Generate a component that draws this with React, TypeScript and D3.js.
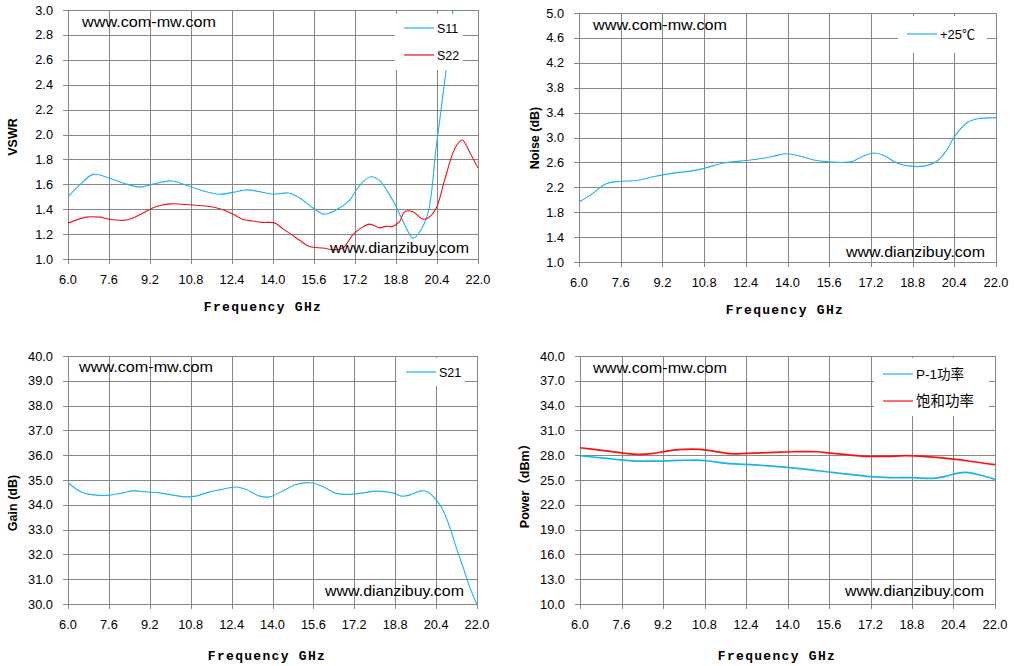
import React from "react";
import * as d3 from "d3";

// ---------- data ----------
const freqTicks = [6.0, 7.6, 9.2, 10.8, 12.4, 14.0, 15.6, 17.2, 18.8, 20.4, 22.0];

const s11Freq = [6.0, 6.46, 6.98, 7.6, 8.15, 8.8, 9.2, 10.03, 10.8, 11.4, 11.9, 12.44, 13.0, 13.5, 14.0, 14.6, 15.04, 15.56, 16.0, 16.47, 17.0, 17.3, 17.8, 18.16, 18.55, 18.81, 19.14, 19.46, 19.7, 20.05, 20.37, 20.77, 21.05, 21.4, 22.0];
const s11Vswr = [1.50, 1.595, 1.68, 1.65, 1.61, 1.577, 1.595, 1.627, 1.58, 1.54, 1.52, 1.535, 1.555, 1.54, 1.52, 1.53, 1.49, 1.41, 1.36, 1.395, 1.475, 1.57, 1.66, 1.63, 1.515, 1.42, 1.275, 1.168, 1.21, 1.37, 1.9, 2.54, 3.05, 3.7, 4.6];

const s22Freq = [6.0, 6.71, 7.24, 7.6, 8.15, 8.54, 8.93, 9.3, 9.6, 10.03, 10.6, 11.1, 11.66, 12.05, 12.44, 12.8, 13.2, 13.6, 14.06, 14.4, 14.7, 15.04, 15.43, 15.95, 16.34, 16.73, 17.12, 17.45, 17.77, 18.16, 18.4, 18.67, 18.94, 19.14, 19.46, 19.85, 20.05, 20.37, 20.7, 21.1, 21.38, 21.67, 22.0];
const s22Vswr = [1.288, 1.336, 1.336, 1.32, 1.31, 1.33, 1.37, 1.41, 1.43, 1.443, 1.438, 1.43, 1.417, 1.395, 1.36, 1.32, 1.305, 1.294, 1.29, 1.24, 1.2, 1.15, 1.1, 1.088, 1.075, 1.088, 1.195, 1.25, 1.28, 1.25, 1.262, 1.262, 1.30, 1.38, 1.38, 1.32, 1.33, 1.41, 1.635, 1.89, 1.956, 1.86, 1.73];

const noiseFreq = [6.0, 6.42, 7.06, 7.57, 8.21, 8.85, 9.5, 10.26, 10.77, 11.54, 12.18, 12.82, 13.46, 13.97, 14.5, 15.1, 15.6, 16.15, 16.5, 16.9, 17.3, 17.7, 18.2, 18.7, 19.2, 19.7, 20.1, 20.4, 20.9, 21.3, 22.0];
const noiseDb = [1.964, 2.07, 2.26, 2.296, 2.31, 2.37, 2.42, 2.46, 2.50, 2.59, 2.62, 2.65, 2.70, 2.74, 2.70, 2.63, 2.61, 2.60, 2.62, 2.70, 2.75, 2.71, 2.59, 2.54, 2.54, 2.61, 2.79, 3.01, 3.24, 3.30, 3.32];

const gainFreq = [6.0, 6.52, 7.11, 7.63, 8.15, 8.54, 9.06, 9.59, 10.1, 10.63, 11.0, 11.54, 12.06, 12.58, 12.97, 13.5, 13.89, 14.4, 14.93, 15.46, 15.9, 16.5, 17.0, 17.54, 18.06, 18.7, 19.04, 19.37, 19.8, 20.07, 20.4, 20.67, 20.93, 21.2, 21.45, 21.71, 22.0];
const gainDb = [34.89, 34.52, 34.39, 34.39, 34.48, 34.56, 34.52, 34.48, 34.39, 34.32, 34.35, 34.52, 34.63, 34.72, 34.62, 34.35, 34.32, 34.56, 34.82, 34.89, 34.77, 34.46, 34.42, 34.48, 34.55, 34.48, 34.35, 34.39, 34.56, 34.52, 34.21, 33.78, 33.11, 32.24, 31.5, 30.7, 29.96];

const p1Freq = [6.0, 7.03, 7.67, 8.31, 9.08, 9.86, 10.5, 10.88, 11.65, 12.43, 13.2, 13.97, 14.74, 15.5, 16.28, 17.18, 17.95, 18.85, 19.62, 20.14, 20.52, 20.9, 21.42, 22.0];
const p1Dbm = [27.94, 27.61, 27.41, 27.29, 27.29, 27.37, 27.41, 27.33, 27.0, 26.89, 26.73, 26.53, 26.29, 26.0, 25.72, 25.4, 25.28, 25.28, 25.2, 25.48, 25.8, 25.92, 25.6, 25.08];

const psatFreq = [6.0, 6.77, 7.54, 8.31, 8.83, 9.34, 9.98, 10.63, 11.14, 11.78, 12.43, 13.46, 14.23, 15.12, 15.64, 16.41, 17.18, 17.82, 18.59, 19.36, 20.14, 20.9, 22.0];
const psatDbm = [28.9, 28.62, 28.3, 28.1, 28.22, 28.5, 28.7, 28.7, 28.5, 28.18, 28.22, 28.34, 28.42, 28.42, 28.26, 28.02, 27.86, 27.86, 27.94, 27.82, 27.61, 27.33, 26.85];

const vswrTicks = [1.0, 1.2, 1.4, 1.6, 1.8, 2.0, 2.2, 2.4, 2.6, 2.8, 3.0];
const noiseTicks = [1.0, 1.4, 1.8, 2.2, 2.6, 3.0, 3.4, 3.8, 4.2, 4.6, 5.0];
const gainTicks = [30, 31, 32, 33, 34, 35, 36, 37, 38, 39, 40];
const powerTicks = [10, 13, 16, 19, 22, 25, 28, 31, 34, 37, 40];

// ---------- styles ----------
const GRID = "#878787";
const BLUE = "#1cb2ec";
const RED = "#e8141a";
const RED2 = "#ff1010";
const TICK_FONT = "'Liberation Sans', Arial, sans-serif";
const CJK_FONT = "'Liberation Sans', 'Noto Sans CJK SC', sans-serif";

type Series = { name: string; xs: number[]; ys: number[]; color: string; width: number; fs: number };
type ChartProps = {
  id: string;
  x0: number; x1: number; y0: number; y1: number;
  yTicks: number[]; yFmt: (v: number) => string;
  series: Series[];
  yTitle: string; yTitleX: number; yTitleY: number;
  xTitleX: number; xTitleY: number;
  legend: { x: number; y: number; w: number; h: number; rows: number[] };
  wm1: { x: number; y: number }; wm2: { x: number; y: number };
};

function Chart(p: ChartProps) {
  const xs = d3.scaleLinear().domain([6, 22]).range([p.x0, p.x1]);
  const ys = d3.scaleLinear().domain([p.yTicks[0], p.yTicks[p.yTicks.length - 1]]).range([p.y1, p.y0]);
  const line = d3.line<[number, number]>().x((d) => xs(d[0])).y((d) => ys(d[1])).curve(d3.curveCatmullRom.alpha(0.5));
  return (
    <g>
      <defs>
        <clipPath id={p.id}>
          <rect x={p.x0} y={p.y0} width={p.x1 - p.x0} height={p.y1 - p.y0} />
        </clipPath>
      </defs>
      <g shapeRendering="crispEdges" stroke={GRID} strokeWidth={1}>
        {p.yTicks.map((t) => (
          <line key={"h" + t} x1={p.x0 - 5} x2={p.x1} y1={Math.round(ys(t)) + 0.5} y2={Math.round(ys(t)) + 0.5} />
        ))}
        {freqTicks.map((t) => (
          <line key={"v" + t} x1={Math.round(xs(t)) + 0.5} x2={Math.round(xs(t)) + 0.5} y1={p.y0} y2={p.y1 + 5} />
        ))}
      </g>
      <g fontFamily={TICK_FONT} fontSize={12.8} fill="#000">
        {p.yTicks.map((t) => (
          <text key={"yl" + t} x={p.x0 - 15} y={ys(t) + 4.5} textAnchor="end">{p.yFmt(t)}</text>
        ))}
        {freqTicks.map((t) => (
          <text key={"xl" + t} x={xs(t)} y={p.y1 + 25} textAnchor="middle">{t.toFixed(1)}</text>
        ))}
      </g>
      <g clipPath={`url(#${p.id})`}>
        {p.series.map((s) => (
          <path key={s.name} d={line(s.xs.map((x, i) => [x, s.ys[i]] as [number, number])) || ""} fill="none" stroke={s.color} strokeWidth={s.width} />
        ))}
      </g>
      <rect x={p.legend.x} y={p.legend.y} width={p.legend.w} height={p.legend.h} fill="#fff" />
      {p.series.map((s, i) => (
        <g key={"lg" + s.name}>
          <line x1={p.legend.x + 9} x2={p.legend.x + 39} y1={p.legend.rows[i]} y2={p.legend.rows[i]} stroke={s.color} strokeWidth={1.2} />
          <text x={p.legend.x + 42} y={p.legend.rows[i] + 5} fontFamily={CJK_FONT} fontSize={s.fs} fill="#000">{s.name}</text>
        </g>
      ))}
      <text x={p.wm1.x} y={p.wm1.y} fontFamily={TICK_FONT} fontSize={15} textLength={134} lengthAdjust="spacingAndGlyphs" fill="#000">www.com-mw.com</text>
      <text x={p.wm2.x} y={p.wm2.y} fontFamily={TICK_FONT} fontSize={15} textLength={139} lengthAdjust="spacingAndGlyphs" fill="#000">www.dianzibuy.com</text>
      <text x={p.xTitleX} y={p.xTitleY} textAnchor="middle" fontFamily="'Liberation Mono', 'DejaVu Sans Mono', monospace" fontWeight="bold" fontSize={13} letterSpacing={1.3} fill="#000">Frequency GHz</text>
      <text transform={`translate(${p.yTitleX},${p.yTitleY}) rotate(-90)`} textAnchor="middle" fontFamily="'Liberation Sans', 'Noto Sans CJK SC', sans-serif" fontWeight="bold" fontSize={12.5} fill="#000">{p.yTitle}</text>
    </g>
  );
}

export default function App() {
  const f1 = (v: number) => v.toFixed(1);
  return (
    <svg width={1014} height={666} style={{ position: "absolute", left: 0, top: 0, background: "#fff" }}>
      <rect width={1014} height={666} fill="#fff" />
      <Chart id="c1" x0={68} x1={478} y0={10} y1={259} yTicks={vswrTicks} yFmt={f1}
        series={[
          { name: "S11", xs: s11Freq, ys: s11Vswr, color: BLUE, width: 1.1, fs: 12.5 },
          { name: "S22", xs: s22Freq, ys: s22Vswr, color: RED, width: 1.1, fs: 12.5 },
        ]}
        yTitle="VSWR" yTitleX={17} yTitleY={137} xTitleX={263} xTitleY={311}
        legend={{ x: 395, y: 14, w: 68, h: 56, rows: [28, 55] }}
        wm1={{ x: 82, y: 27 }} wm2={{ x: 330, y: 253 }} />
      <Chart id="c2" x0={579} x1={996} y0={13} y1={262} yTicks={noiseTicks} yFmt={f1}
        series={[{ name: "+25℃", xs: noiseFreq, ys: noiseDb, color: BLUE, width: 1.1, fs: 13 }]}
        yTitle="Noise (dB)" yTitleX={539} yTitleY={138} xTitleX={785} xTitleY={314}
        legend={{ x: 898, y: 16, w: 89, h: 37, rows: [34] }}
        wm1={{ x: 593, y: 30 }} wm2={{ x: 846, y: 257 }} />
      <Chart id="c3" x0={68} x1={477} y0={356} y1={604} yTicks={gainTicks} yFmt={f1}
        series={[{ name: "S21", xs: gainFreq, ys: gainDb, color: BLUE, width: 1.1, fs: 12.5 }]}
        yTitle="Gain (dB)" yTitleX={17} yTitleY={503} xTitleX={267} xTitleY={660}
        legend={{ x: 397, y: 358, w: 68, h: 28, rows: [372] }}
        wm1={{ x: 79, y: 372 }} wm2={{ x: 325, y: 596 }} />
      <Chart id="c4" x0={580} x1={995} y0={356} y1={604} yTicks={powerTicks} yFmt={f1}
        series={[
          { name: "P-1功率", xs: p1Freq, ys: p1Dbm, color: BLUE, width: 1.7, fs: 13.5 },
          { name: "饱和功率", xs: psatFreq, ys: psatDbm, color: RED2, width: 1.7, fs: 14.5 },
        ]}
        yTitle="Power（dBm）" yTitleX={529} yTitleY={483} xTitleX={777} xTitleY={660}
        legend={{ x: 874, y: 358, w: 115, h: 58, rows: [374, 401] }}
        wm1={{ x: 593, y: 373 }} wm2={{ x: 845, y: 596 }} />
    </svg>
  );
}
